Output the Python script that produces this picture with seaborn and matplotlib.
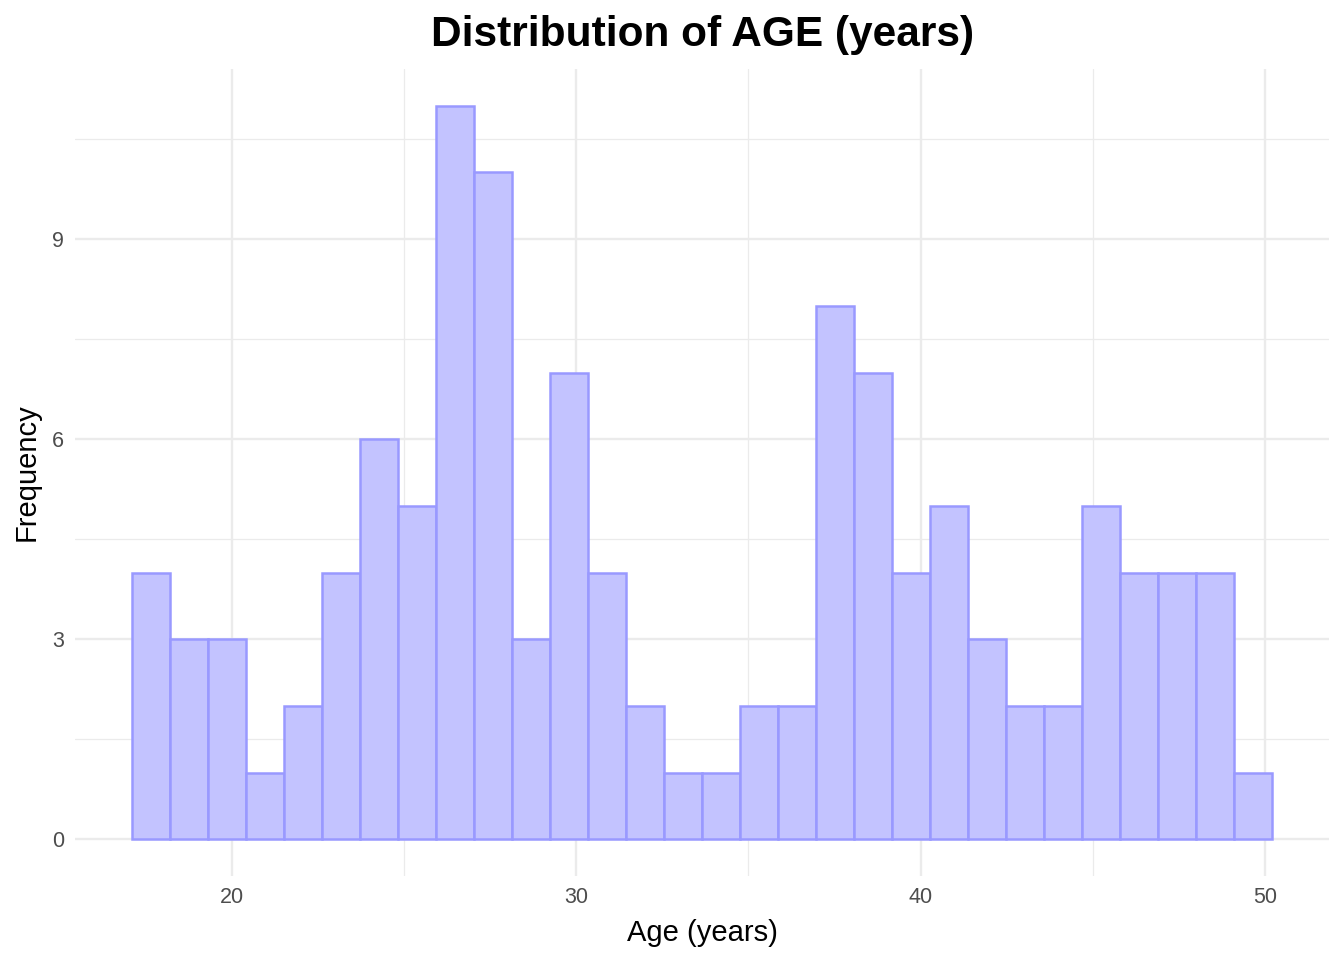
import numpy as np
import pandas as pd
import matplotlib
matplotlib.use("Agg")
import matplotlib.pyplot as plt
import seaborn as sns
from matplotlib.ticker import MultipleLocator

# Data: 30 bins between 17.1 and 50.2 years
bin_start = 17.1
bin_end = 50.2
counts = [4, 3, 3, 1, 2, 4, 6, 5, 11, 10, 3, 7, 4, 2, 1,
          1, 2, 2, 8, 7, 4, 5, 3, 2, 2, 5, 4, 4, 4, 1]
x_ticks = [20, 30, 40, 50]
y_ticks = [0, 3, 6, 9]

nbins = len(counts)
width = (bin_end - bin_start) / nbins
centers = bin_start + width * (np.arange(nbins) + 0.5)
df = pd.DataFrame({"age": centers, "n": counts})

sns.set_theme(style="white")
plt.rcParams["font.family"] = ["Liberation Sans", "DejaVu Sans"]

fig = plt.figure(figsize=(13.44, 9.6), dpi=100)
ax = fig.add_axes([0.0558, 0.0875, 0.9330, 0.8405])

ax.xaxis.set_minor_locator(MultipleLocator(5))
ax.yaxis.set_minor_locator(MultipleLocator(1.5))
ax.grid(which="major", color="#EBEBEB", linewidth=1.7)
ax.grid(which="minor", color="#EBEBEB", linewidth=0.9)
ax.set_axisbelow(True)

sns.histplot(data=df, x="age", weights="n", bins=nbins,
             binrange=(bin_start, bin_end), ax=ax,
             color="#C3C3FF", edgecolor="#9999FF", linewidth=1.8, alpha=1.0)

span = bin_end - bin_start
ax.set_xlim(bin_start - 0.05 * span, bin_end + 0.05 * span)
ymax = max(counts)
ax.set_ylim(-0.05 * ymax, ymax * 1.05)
ax.set_xticks(x_ticks)
ax.set_yticks(y_ticks)
ax.tick_params(axis="both", which="both", length=0, labelsize=15.5,
               labelcolor="#4D4D4D", pad=8)
for s in ax.spines.values():
    s.set_visible(False)

ax.set_xlabel("Age (years)", fontsize=21, color="black", labelpad=8)
ax.set_ylabel("Frequency", fontsize=21, color="black", labelpad=8)
fig.text(0.5225, 0.964, "Distribution of AGE (years)", ha="center", va="center",
         fontsize=30.5, fontweight="bold", color="black")

fig.savefig("out.png", dpi=100, facecolor="white")
